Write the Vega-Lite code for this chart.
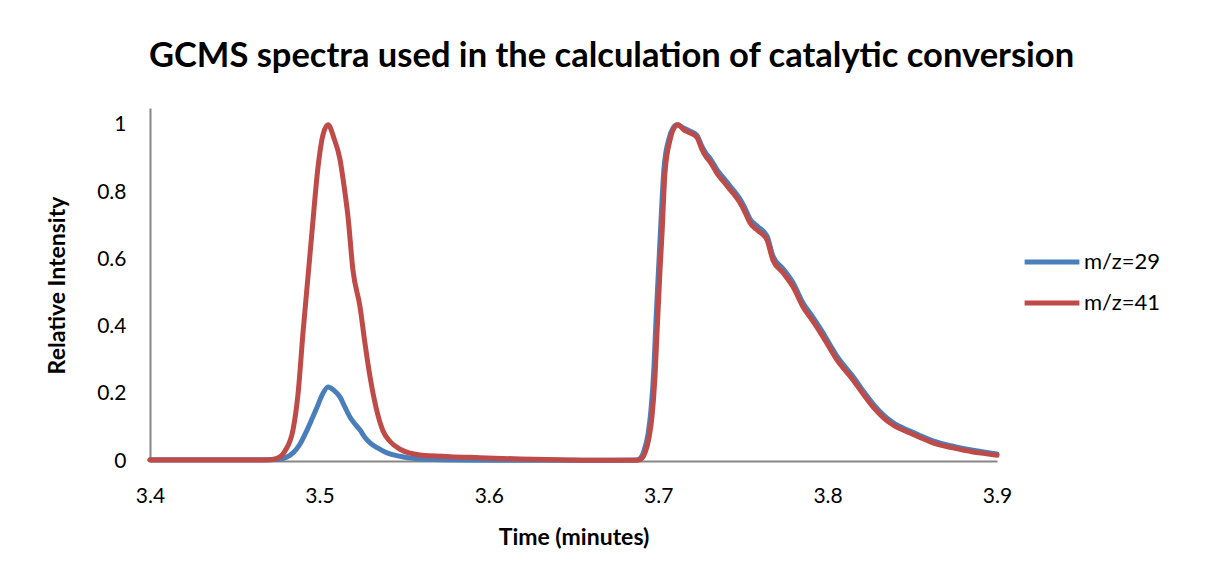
{
  "$schema": "https://vega.github.io/schema/vega-lite/v6.json",
  "autosize": {"type": "none"},
  "padding": {"left": 150, "top": 108, "right": 209, "bottom": 117},
  "width": 847,
  "height": 353,
  "background": "white",
  "title": {
    "text": "GCMS spectra used in the calculation of catalytic conversion",
    "font": "Lato",
    "fontSize": 34.5,
    "fontWeight": "bold",
    "color": "#000000",
    "anchor": "middle",
    "dx": 38,
    "offset": 34
  },
  "config": {
    "view": {"stroke": null},
    "font": "Lato"
  },
  "data": {
    "values": [
      {"t": 3.4, "v": 0.004, "s": "m/z=29"},
      {"t": 3.4295, "v": 0.004, "s": "m/z=29"},
      {"t": 3.459, "v": 0.004, "s": "m/z=29"},
      {"t": 3.4708, "v": 0.004, "s": "m/z=29"},
      {"t": 3.4767, "v": 0.006, "s": "m/z=29"},
      {"t": 3.4809, "v": 0.012, "s": "m/z=29"},
      {"t": 3.4844, "v": 0.024, "s": "m/z=29"},
      {"t": 3.4885, "v": 0.05, "s": "m/z=29"},
      {"t": 3.4927, "v": 0.092, "s": "m/z=29"},
      {"t": 3.4956, "v": 0.125, "s": "m/z=29"},
      {"t": 3.4986, "v": 0.16, "s": "m/z=29"},
      {"t": 3.5015, "v": 0.195, "s": "m/z=29"},
      {"t": 3.5051, "v": 0.22, "s": "m/z=29"},
      {"t": 3.5086, "v": 0.21, "s": "m/z=29"},
      {"t": 3.5122, "v": 0.19, "s": "m/z=29"},
      {"t": 3.5151, "v": 0.16, "s": "m/z=29"},
      {"t": 3.5181, "v": 0.13, "s": "m/z=29"},
      {"t": 3.521, "v": 0.11, "s": "m/z=29"},
      {"t": 3.524, "v": 0.092, "s": "m/z=29"},
      {"t": 3.5269, "v": 0.07, "s": "m/z=29"},
      {"t": 3.5299, "v": 0.054, "s": "m/z=29"},
      {"t": 3.5346, "v": 0.038, "s": "m/z=29"},
      {"t": 3.5399, "v": 0.024, "s": "m/z=29"},
      {"t": 3.5476, "v": 0.014, "s": "m/z=29"},
      {"t": 3.5535, "v": 0.009, "s": "m/z=29"},
      {"t": 3.5653, "v": 0.005, "s": "m/z=29"},
      {"t": 3.583, "v": 0.003, "s": "m/z=29"},
      {"t": 3.6184, "v": 0.002, "s": "m/z=29"},
      {"t": 3.6656, "v": 0.002, "s": "m/z=29"},
      {"t": 3.6875, "v": 0.003, "s": "m/z=29"},
      {"t": 3.6898, "v": 0.01, "s": "m/z=29"},
      {"t": 3.6916, "v": 0.03, "s": "m/z=29"},
      {"t": 3.694, "v": 0.08, "s": "m/z=29"},
      {"t": 3.6957, "v": 0.15, "s": "m/z=29"},
      {"t": 3.6975, "v": 0.28, "s": "m/z=29"},
      {"t": 3.6987, "v": 0.42, "s": "m/z=29"},
      {"t": 3.7005, "v": 0.6, "s": "m/z=29"},
      {"t": 3.7017, "v": 0.72, "s": "m/z=29"},
      {"t": 3.7034, "v": 0.87, "s": "m/z=29"},
      {"t": 3.7064, "v": 0.96, "s": "m/z=29"},
      {"t": 3.7087, "v": 0.99, "s": "m/z=29"},
      {"t": 3.7111, "v": 1.0, "s": "m/z=29"},
      {"t": 3.7152, "v": 0.99, "s": "m/z=29"},
      {"t": 3.7188, "v": 0.981, "s": "m/z=29"},
      {"t": 3.7229, "v": 0.968, "s": "m/z=29"},
      {"t": 3.7259, "v": 0.935, "s": "m/z=29"},
      {"t": 3.7282, "v": 0.915, "s": "m/z=29"},
      {"t": 3.7306, "v": 0.9, "s": "m/z=29"},
      {"t": 3.7353, "v": 0.862, "s": "m/z=29"},
      {"t": 3.7388, "v": 0.841, "s": "m/z=29"},
      {"t": 3.7424, "v": 0.818, "s": "m/z=29"},
      {"t": 3.7453, "v": 0.8, "s": "m/z=29"},
      {"t": 3.7483, "v": 0.779, "s": "m/z=29"},
      {"t": 3.7512, "v": 0.752, "s": "m/z=29"},
      {"t": 3.7542, "v": 0.72, "s": "m/z=29"},
      {"t": 3.7589, "v": 0.697, "s": "m/z=29"},
      {"t": 3.7642, "v": 0.67, "s": "m/z=29"},
      {"t": 3.7677, "v": 0.61, "s": "m/z=29"},
      {"t": 3.7737, "v": 0.572, "s": "m/z=29"},
      {"t": 3.7796, "v": 0.53, "s": "m/z=29"},
      {"t": 3.7855, "v": 0.47, "s": "m/z=29"},
      {"t": 3.7914, "v": 0.427, "s": "m/z=29"},
      {"t": 3.7973, "v": 0.381, "s": "m/z=29"},
      {"t": 3.8014, "v": 0.346, "s": "m/z=29"},
      {"t": 3.8056, "v": 0.311, "s": "m/z=29"},
      {"t": 3.8103, "v": 0.28, "s": "m/z=29"},
      {"t": 3.815, "v": 0.251, "s": "m/z=29"},
      {"t": 3.8209, "v": 0.209, "s": "m/z=29"},
      {"t": 3.8268, "v": 0.17, "s": "m/z=29"},
      {"t": 3.8327, "v": 0.138, "s": "m/z=29"},
      {"t": 3.8386, "v": 0.114, "s": "m/z=29"},
      {"t": 3.8486, "v": 0.089, "s": "m/z=29"},
      {"t": 3.8545, "v": 0.076, "s": "m/z=29"},
      {"t": 3.8622, "v": 0.06, "s": "m/z=29"},
      {"t": 3.874, "v": 0.044, "s": "m/z=29"},
      {"t": 3.8858, "v": 0.032, "s": "m/z=29"},
      {"t": 3.8929, "v": 0.026, "s": "m/z=29"},
      {"t": 3.9, "v": 0.021, "s": "m/z=29"},
      {"t": 3.4, "v": 0.003, "s": "m/z=41"},
      {"t": 3.4295, "v": 0.003, "s": "m/z=41"},
      {"t": 3.459, "v": 0.003, "s": "m/z=41"},
      {"t": 3.4708, "v": 0.004, "s": "m/z=41"},
      {"t": 3.475, "v": 0.008, "s": "m/z=41"},
      {"t": 3.4797, "v": 0.03, "s": "m/z=41"},
      {"t": 3.4844, "v": 0.092, "s": "m/z=41"},
      {"t": 3.4874, "v": 0.2, "s": "m/z=41"},
      {"t": 3.4903, "v": 0.38, "s": "m/z=41"},
      {"t": 3.4933, "v": 0.55, "s": "m/z=41"},
      {"t": 3.4956, "v": 0.68, "s": "m/z=41"},
      {"t": 3.4992, "v": 0.875, "s": "m/z=41"},
      {"t": 3.5021, "v": 0.97, "s": "m/z=41"},
      {"t": 3.5051, "v": 1.0, "s": "m/z=41"},
      {"t": 3.5086, "v": 0.96, "s": "m/z=41"},
      {"t": 3.5122, "v": 0.896, "s": "m/z=41"},
      {"t": 3.5145, "v": 0.82, "s": "m/z=41"},
      {"t": 3.5169, "v": 0.726, "s": "m/z=41"},
      {"t": 3.5198, "v": 0.568, "s": "m/z=41"},
      {"t": 3.524, "v": 0.458, "s": "m/z=41"},
      {"t": 3.5269, "v": 0.35, "s": "m/z=41"},
      {"t": 3.5299, "v": 0.25, "s": "m/z=41"},
      {"t": 3.5334, "v": 0.16, "s": "m/z=41"},
      {"t": 3.5375, "v": 0.09, "s": "m/z=41"},
      {"t": 3.5417, "v": 0.058, "s": "m/z=41"},
      {"t": 3.5476, "v": 0.035, "s": "m/z=41"},
      {"t": 3.5594, "v": 0.018, "s": "m/z=41"},
      {"t": 3.5771, "v": 0.013, "s": "m/z=41"},
      {"t": 3.5948, "v": 0.01, "s": "m/z=41"},
      {"t": 3.6184, "v": 0.006, "s": "m/z=41"},
      {"t": 3.642, "v": 0.004, "s": "m/z=41"},
      {"t": 3.6656, "v": 0.002, "s": "m/z=41"},
      {"t": 3.6875, "v": 0.002, "s": "m/z=41"},
      {"t": 3.6904, "v": 0.008, "s": "m/z=41"},
      {"t": 3.6922, "v": 0.024, "s": "m/z=41"},
      {"t": 3.6946, "v": 0.07, "s": "m/z=41"},
      {"t": 3.6963, "v": 0.13, "s": "m/z=41"},
      {"t": 3.6981, "v": 0.25, "s": "m/z=41"},
      {"t": 3.6993, "v": 0.38, "s": "m/z=41"},
      {"t": 3.7011, "v": 0.57, "s": "m/z=41"},
      {"t": 3.7023, "v": 0.68, "s": "m/z=41"},
      {"t": 3.704, "v": 0.857, "s": "m/z=41"},
      {"t": 3.707, "v": 0.955, "s": "m/z=41"},
      {"t": 3.7093, "v": 0.99, "s": "m/z=41"},
      {"t": 3.7117, "v": 1.0, "s": "m/z=41"},
      {"t": 3.7152, "v": 0.985, "s": "m/z=41"},
      {"t": 3.7188, "v": 0.976, "s": "m/z=41"},
      {"t": 3.7229, "v": 0.962, "s": "m/z=41"},
      {"t": 3.7259, "v": 0.926, "s": "m/z=41"},
      {"t": 3.7282, "v": 0.905, "s": "m/z=41"},
      {"t": 3.7306, "v": 0.89, "s": "m/z=41"},
      {"t": 3.7353, "v": 0.851, "s": "m/z=41"},
      {"t": 3.7388, "v": 0.83, "s": "m/z=41"},
      {"t": 3.7424, "v": 0.807, "s": "m/z=41"},
      {"t": 3.7453, "v": 0.79, "s": "m/z=41"},
      {"t": 3.7483, "v": 0.768, "s": "m/z=41"},
      {"t": 3.7512, "v": 0.74, "s": "m/z=41"},
      {"t": 3.7542, "v": 0.708, "s": "m/z=41"},
      {"t": 3.7589, "v": 0.685, "s": "m/z=41"},
      {"t": 3.7642, "v": 0.658, "s": "m/z=41"},
      {"t": 3.7677, "v": 0.598, "s": "m/z=41"},
      {"t": 3.7737, "v": 0.56, "s": "m/z=41"},
      {"t": 3.7796, "v": 0.518, "s": "m/z=41"},
      {"t": 3.7855, "v": 0.458, "s": "m/z=41"},
      {"t": 3.7914, "v": 0.415, "s": "m/z=41"},
      {"t": 3.7973, "v": 0.369, "s": "m/z=41"},
      {"t": 3.8014, "v": 0.335, "s": "m/z=41"},
      {"t": 3.8056, "v": 0.3, "s": "m/z=41"},
      {"t": 3.8103, "v": 0.27, "s": "m/z=41"},
      {"t": 3.815, "v": 0.241, "s": "m/z=41"},
      {"t": 3.8209, "v": 0.2, "s": "m/z=41"},
      {"t": 3.8268, "v": 0.161, "s": "m/z=41"},
      {"t": 3.8327, "v": 0.13, "s": "m/z=41"},
      {"t": 3.8386, "v": 0.107, "s": "m/z=41"},
      {"t": 3.8486, "v": 0.083, "s": "m/z=41"},
      {"t": 3.8545, "v": 0.07, "s": "m/z=41"},
      {"t": 3.8622, "v": 0.054, "s": "m/z=41"},
      {"t": 3.874, "v": 0.039, "s": "m/z=41"},
      {"t": 3.8858, "v": 0.027, "s": "m/z=41"},
      {"t": 3.8929, "v": 0.022, "s": "m/z=41"},
      {"t": 3.9, "v": 0.017, "s": "m/z=41"}
    ]
  },
  "mark": {"type": "line", "strokeWidth": 5, "strokeJoin": "round", "strokeCap": "round", "interpolate": "monotone"},
  "encoding": {
    "x": {
      "field": "t",
      "type": "quantitative",
      "scale": {"domain": [3.4, 3.9], "nice": false, "zero": false},
      "axis": {
        "title": "Time (minutes)",
        "values": [3.4, 3.5, 3.6, 3.7, 3.8, 3.9],
        "format": ".1f",
        "grid": false,
        "ticks": false,
        "domainColor": "#868686",
        "domainWidth": 2,
        "labelFont": "Lato",
        "labelFontSize": 21,
        "labelColor": "#000000",
        "labelPadding": 24,
        "labelFlush": false,
        "titleFont": "Lato",
        "titleFontSize": 23,
        "titleFontWeight": "bold",
        "titleColor": "#000000",
        "titleBaseline": "middle",
        "titleY": 76
      }
    },
    "y": {
      "field": "v",
      "type": "quantitative",
      "scale": {"domain": [0, 1.05], "nice": false},
      "axis": {
        "title": "Relative Intensity",
        "values": [0, 0.2, 0.4, 0.6, 0.8, 1],
        "format": "~g",
        "grid": false,
        "ticks": false,
        "domainColor": "#868686",
        "domainWidth": 2,
        "labelFont": "Lato",
        "labelFontSize": 21,
        "labelColor": "#000000",
        "labelPadding": 24,
        "labelFlush": false,
        "titleFont": "Lato",
        "titleFontSize": 23,
        "titleFontWeight": "bold",
        "titleColor": "#000000",
        "titleAngle": -90,
        "titleAlign": "center",
        "titleBaseline": "middle",
        "titleX": -93,
        "titleY": 177
      }
    },
    "color": {
      "field": "s",
      "type": "nominal",
      "scale": {"domain": ["m/z=29", "m/z=41"], "range": ["#4A7EBB", "#BE4B48"]},
      "legend": {
        "title": null,
        "orient": "none",
        "legendX": 872,
        "legendY": 124,
        "symbolType": "stroke",
        "symbolSize": 3000,
        "symbolStrokeWidth": 5,
        "labelFont": "Lato",
        "labelFontSize": 22,
        "labelColor": "#000000",
        "labelOffset": 2,
        "rowPadding": -11,
        "padding": 0
      }
    }
  }
}
